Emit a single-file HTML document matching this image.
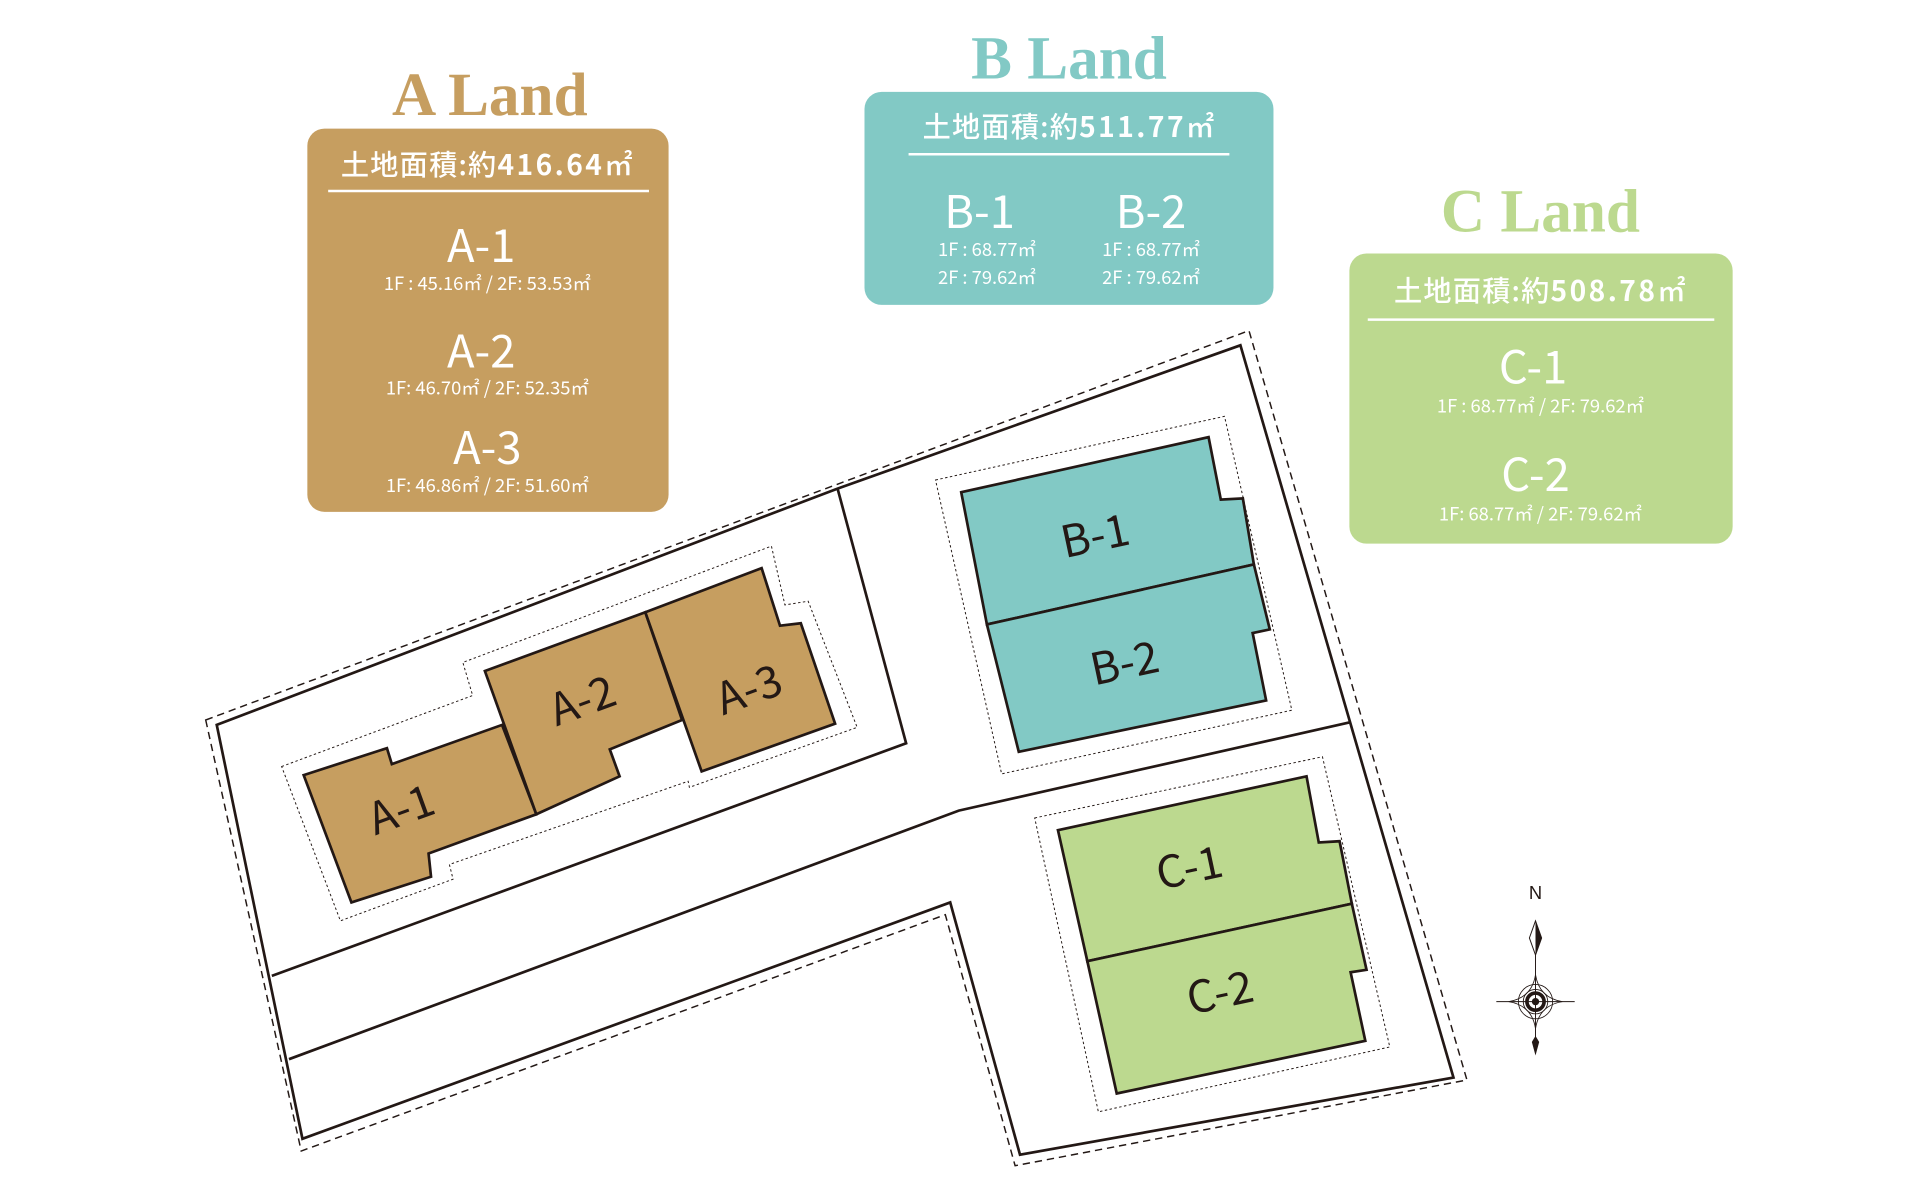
<!DOCTYPE html>
<html><head><meta charset="utf-8"><style>
html,body{margin:0;padding:0;background:#fff;}
svg{display:block;}
.t{font-family:"Liberation Serif",serif;font-weight:bold;text-anchor:middle;}
.w{font-family:"Noto Sans CJK JP","Liberation Sans",sans-serif;fill:#fff;text-anchor:middle;}
.h{font-weight:500;}
.lb{font-family:"Noto Sans CJK JP","Liberation Sans",sans-serif;fill:#231815;text-anchor:middle;font-size:36px;}
</style></head><body>
<svg width="1920" height="1200" viewBox="0 0 1568 980" xmlns="http://www.w3.org/2000/svg" xml:space="preserve">
<!-- A Land -->
<text class="t" x="400" y="94" font-size="50" fill="#c69e60">A Land</text>
<rect x="251" y="105" width="295" height="313" rx="14" fill="#c69e60"/>
<text class="w h" x="398" y="143" font-size="23" letter-spacing="1">土地面積:約<tspan font-weight="bold" letter-spacing="2">416.64</tspan>㎡</text>
<line x1="268" y1="156" x2="530" y2="156" stroke="#fff" stroke-width="2"/>
<text class="w" x="393" y="214" font-size="37">A-1</text>
<text class="w" x="398" y="237" font-size="15">1F : 45.16㎡  /  2F: 53.53㎡</text>
<text class="w" x="393" y="300" font-size="37">A-2</text>
<text class="w" x="398" y="322" font-size="15">1F: 46.70㎡  /  2F: 52.35㎡</text>
<text class="w" x="398" y="379" font-size="37">A-3</text>
<text class="w" x="398" y="402" font-size="15">1F: 46.86㎡ /  2F: 51.60㎡</text>
<!-- B Land -->
<text class="t" x="873" y="64" font-size="50" fill="#82c9c5">B Land</text>
<rect x="706" y="75" width="334" height="174" rx="14" fill="#82c9c5"/>
<text class="w h" x="873" y="112" font-size="23" letter-spacing="1">土地面積:約<tspan font-weight="bold" letter-spacing="2">511.77</tspan>㎡</text>
<line x1="742" y1="126" x2="1004" y2="126" stroke="#fff" stroke-width="2"/>
<text class="w" x="800" y="186" font-size="37">B-1</text>
<text class="w" x="940" y="186" font-size="37">B-2</text>
<text class="w" x="806" y="209" font-size="15">1F : 68.77㎡</text>
<text class="w" x="940" y="209" font-size="15">1F : 68.77㎡</text>
<text class="w" x="806" y="232" font-size="15">2F : 79.62㎡</text>
<text class="w" x="940" y="232" font-size="15">2F : 79.62㎡</text>
<!-- C Land -->
<text class="t" x="1258" y="189" font-size="50" fill="#bcd98f">C Land</text>
<rect x="1102" y="207" width="313" height="237" rx="14" fill="#bcd98f"/>
<text class="w h" x="1258" y="246" font-size="23" letter-spacing="1">土地面積:約<tspan font-weight="bold" letter-spacing="2">508.78</tspan>㎡</text>
<line x1="1117" y1="261" x2="1400" y2="261" stroke="#fff" stroke-width="2"/>
<text class="w" x="1252" y="313" font-size="37">C-1</text>
<text class="w" x="1258" y="337" font-size="15">1F : 68.77㎡  /  2F: 79.62㎡</text>
<text class="w" x="1254" y="401" font-size="37">C-2</text>
<text class="w" x="1258" y="425" font-size="15">1F: 68.77㎡ /  2F: 79.62㎡</text>

<!-- site -->
<polygon points="168,588 1020,270 1198,882 829,952 772,747 246,940" fill="none" stroke="#231815" stroke-width="1.2" stroke-dasharray="6,4"/>
<g fill="none" stroke="#231815" stroke-width="0.8" stroke-dasharray="2,2">
<polygon points="230,626 386,568 378,541 630,446 641,494 660,491 700,594 563,643 562,638 367,706 370,718 278,752"/>
<polygon points="764,392 1000,340 1055,580 818,632"/>
<polygon points="845,668 1080,618 1135,855 897,908"/>
</g>
<g fill="none" stroke="#231815" stroke-width="2.2">
<polygon points="177,592 684,399 1013,282 1187,880 833,943 776,737 247,930"/>
<polyline points="684,399 740,607 222,797"/>
<polyline points="236,865 783,662 1102,590"/>
</g>
<g stroke="#231815" stroke-width="2.2" stroke-linejoin="miter">
<polygon fill="#c69e60" points="248,633 316,611 320,624 410,592 438,665 350,697 352,716 287,737"/>
<polygon fill="#c69e60" points="396,548 527,500 557,588 498,612 506,634 438,665"/>
<polygon fill="#c69e60" points="527,500 622,464 637,511 654,509 682,591 573,630"/>
<polygon fill="#82c9c5" points="785,402 987,357 997,408 1015,407 1024,461 806,510"/>
<polygon fill="#82c9c5" points="806,510 1024,461 1037,514 1023,517 1034,572 832,614"/>
<polygon fill="#bcd98f" points="864,678 1067,634 1077,688 1094,687 1104,738 888,785"/>
<polygon fill="#bcd98f" points="888,785 1104,738 1116,792 1103,794 1115,850 912,893"/>
</g>
<text class="lb" transform="translate(332,673) rotate(-20)">A-1</text>
<text class="lb" transform="translate(480,584) rotate(-20)">A-2</text>
<text class="lb" transform="translate(616,575) rotate(-20)">A-3</text>
<text class="lb" transform="translate(897,450) rotate(-12)">B-1</text>
<text class="lb" transform="translate(921,554) rotate(-12)">B-2</text>
<text class="lb" transform="translate(974,721) rotate(-12)">C-1</text>
<text class="lb" transform="translate(999,823) rotate(-12)">C-2</text>

<!-- compass -->
<g transform="translate(1254,818)" stroke="#231815" fill="none">
<text x="0" y="-84" font-family="Liberation Sans,sans-serif" font-size="15" fill="#231815" stroke="none" text-anchor="middle">N</text>
<line x1="0" y1="-66" x2="0" y2="36" stroke-width="0.8"/>
<polygon points="0,-66 -5,-52 0,-38 5,-52" stroke-width="0.8" fill="#fff"/>
<polygon points="0,-66 0,-38 5,-52" fill="#231815" stroke="none"/>
<line x1="-32" y1="0" x2="32" y2="0" stroke-width="0.8"/>
<path d="M0,-22 Q3,-3 22,0 Q3,3 0,22 Q-3,3 -22,0 Q-3,-3 0,-22Z" stroke-width="0.7"/>
<circle r="14" stroke-width="0.7"/>
<circle r="10" stroke-width="0.7"/>
<circle r="7" stroke-width="3"/>
<circle r="3" fill="#231815" stroke="none"/>
<polygon points="0,28 -3,33 0,44 3,33" fill="#231815" stroke="none"/>
</g>
</svg>
</body></html>
